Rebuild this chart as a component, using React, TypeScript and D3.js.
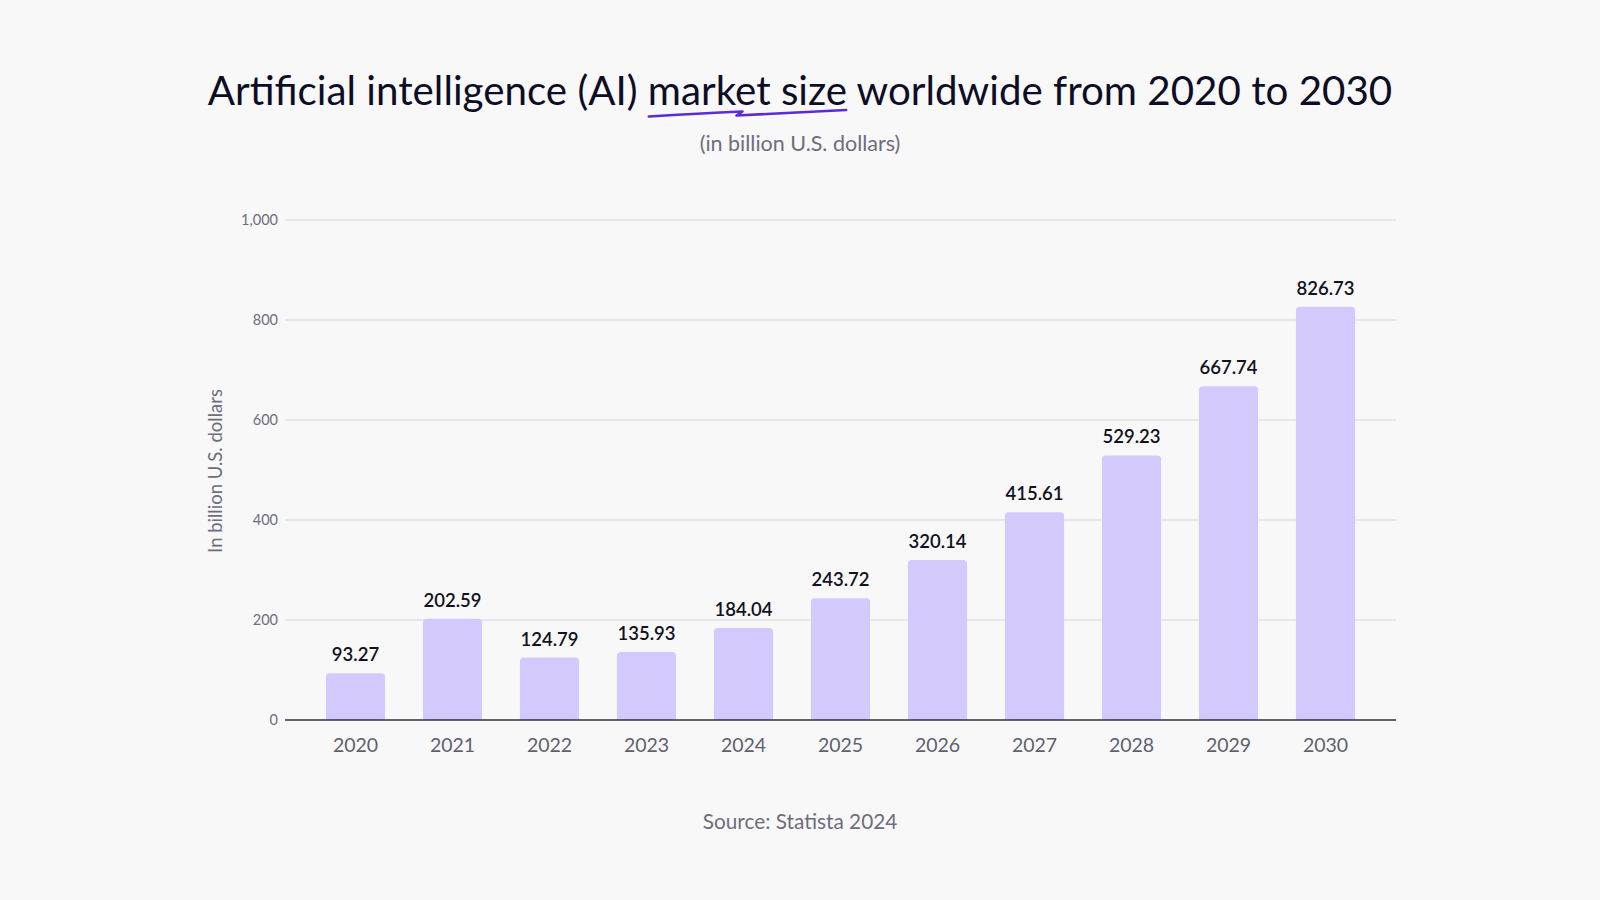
import React, { useEffect, useRef, useState } from "react";
import * as d3 from "d3";

const years = ["2020", "2021", "2022", "2023", "2024", "2025", "2026", "2027", "2028", "2029", "2030"];
const marketSize = [93.27, 202.59, 124.79, 135.93, 184.04, 243.72, 320.14, 415.61, 529.23, 667.74, 826.73];
const yTicks = [0, 200, 400, 600, 800, 1000];

const titleBefore = "Artificial intelligence (AI) ";
const titleMark = "market size";
const titleAfter = " worldwide from 2020 to 2030";
const subtitle = "(in billion U.S. dollars)";
const yAxisTitle = "In billion U.S. dollars";
const source = "Source: Statista 2024";

const W = 1600;
const H = 900;
const FONT = "Lato, 'Open Sans', sans-serif";

export default function App() {
  const titleRef = useRef<SVGTextElement>(null);
  const [ul, setUl] = useState<{ x0: number; x1: number } | null>(null);

  const y = d3.scaleLinear().domain([0, 1000]).range([720, 220]);
  const x = d3.scaleBand<string>().domain(years).range([307, 1374]).paddingInner(0.39).paddingOuter(0.195);
  const bw = x.bandwidth();

  useEffect(() => {
    const t = titleRef.current;
    if (!t) return;
    const i0 = titleBefore.length;
    const i1 = i0 + titleMark.length - 1;
    try {
      const x0 = t.getStartPositionOfChar(i0).x;
      const x1 = t.getEndPositionOfChar(i1).x;
      setUl({ x0, x1 });
    } catch (e) {}
  }, []);

  const barPath = (xl: number, yt: number, w: number, yb: number, r: number) => {
    const rr = Math.min(r, (yb - yt) / 2, w / 2);
    return `M${xl},${yb} L${xl},${yt + rr} Q${xl},${yt} ${xl + rr},${yt} L${xl + w - rr},${yt} Q${xl + w},${yt} ${xl + w},${yt + rr} L${xl + w},${yb} Z`;
  };

  let ulPath = "";
  if (ul) {
    const w = ul.x1 - ul.x0;
    const a = ul.x0 + 1;
    ulPath = `M${a},116.5 Q${a + w * 0.25},113.5 ${a + w * 0.47},111.5 L${a + w * 0.44},115.5 Q${a + w * 0.75},112.5 ${ul.x1 - 1},110`;
  }

  return (
    <svg
      width={W}
      height={H}
      viewBox={`0 0 ${W} ${H}`}
      style={{ position: "absolute", left: 0, top: 0, display: "block" }}
      fontFamily={FONT}
    >
      <rect x={0} y={0} width={W} height={H} fill="#f8f8f9" />

      <text
        ref={titleRef}
        x={800}
        y={105}
        textAnchor="middle"
        fontSize={40.3}
        fill="#0e0d26"
      >
        {titleBefore + titleMark + titleAfter}
      </text>
      {ulPath && (
        <path d={ulPath} fill="none" stroke="#5a2bd6" strokeWidth={2.6} strokeLinecap="round" strokeLinejoin="round" />
      )}
      <text x={800} y={151} textAnchor="middle" fontSize={21.5} fill="#6d6d7c">
        {subtitle}
      </text>

      {yTicks.map((t) => (
        <g key={t}>
          {t !== 0 && <line x1={285} x2={1396} y1={y(t)} y2={y(t)} stroke="#d6d6da" strokeWidth={1} />}
          <text x={278} y={y(t)} dy="0.35em" textAnchor="end" fontSize={14.5} fill="#6d6d7c">
            {d3.format(",")(t)}
          </text>
        </g>
      ))}

      <text
        transform={`translate(222,${471}) rotate(-90)`}
        textAnchor="middle"
        fontSize={18.5}
        fill="#6d6d7c"
      >
        {yAxisTitle}
      </text>

      {years.map((yr, i) => {
        const xl = x(yr)!;
        const v = marketSize[i];
        return (
          <g key={yr}>
            <path d={barPath(xl, y(v), bw, y(0), 4)} fill="#d4c9fc" />
            <text x={xl + bw / 2} y={y(v) - 12} textAnchor="middle" fontSize={18.5} fontWeight={600} fill="#111122">
              {d3.format(".2f")(v)}
            </text>
            <text x={xl + bw / 2} y={752} textAnchor="middle" fontSize={19.5} fill="#5f5f6e">
              {yr}
            </text>
          </g>
        );
      })}

      <line x1={285} x2={1396} y1={y(0)} y2={y(0)} stroke="#2f2f40" strokeWidth={1.5} />

      <text x={800} y={829} textAnchor="middle" fontSize={20.8} fill="#6d6d7c">
        {source}
      </text>
    </svg>
  );
}
